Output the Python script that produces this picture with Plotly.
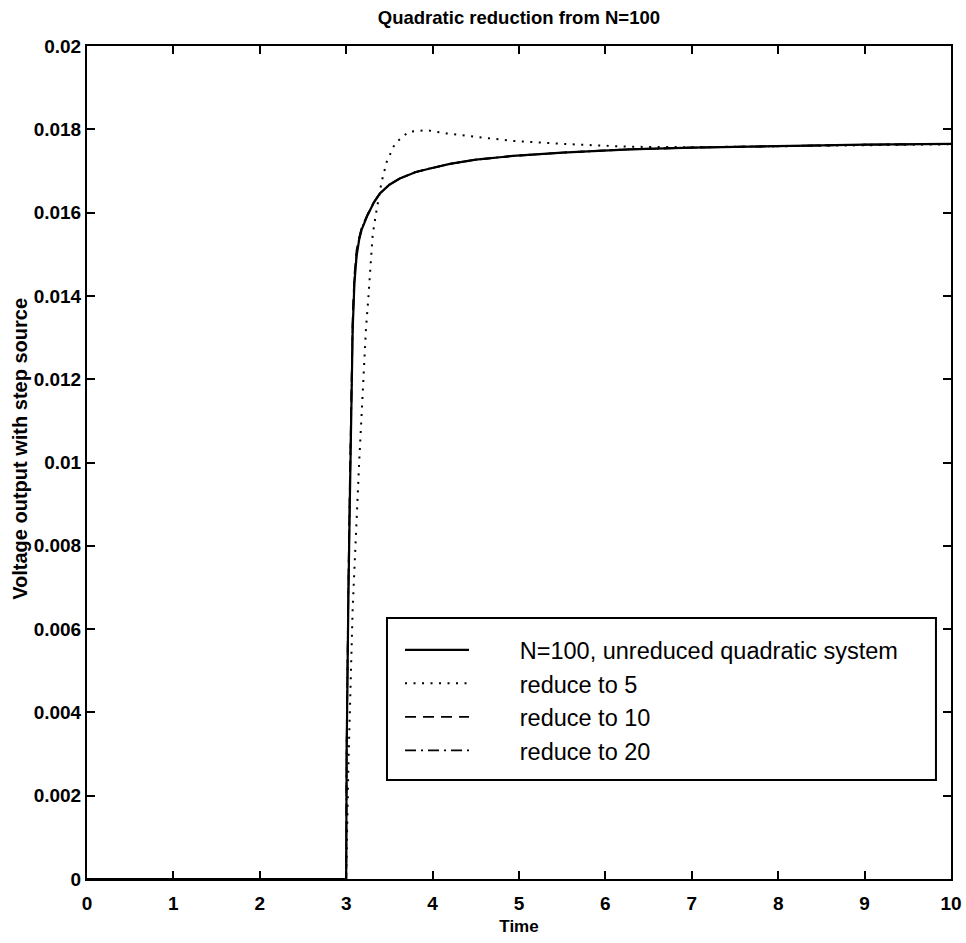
import plotly.graph_objects as go

# Step response of the full N=100 quadratic system and its reduced-order models
t_full = [0.0, 2.99, 3.0, 3.005, 3.012, 3.025, 3.04, 3.055, 3.075, 3.095, 3.12, 3.15,
          3.18, 3.25, 3.32, 3.39, 3.5, 3.62, 3.8, 3.97, 4.2, 4.5, 4.93, 5.5, 6.28,
          7.0, 8.0, 9.0, 10.0]
v_full = [0.0, 0.0, 0.0, 0.0030, 0.0048, 0.0067, 0.0088, 0.0108, 0.0132, 0.0143,
          0.01495, 0.01535, 0.0156, 0.01595, 0.01624, 0.01646, 0.01667, 0.01682,
          0.01697, 0.01706, 0.01717, 0.01727, 0.01736, 0.01744, 0.01752, 0.01756,
          0.0176, 0.01763, 0.01765]

t_red5 = [0.0, 2.99, 3.0, 3.025, 3.075, 3.15, 3.229, 3.256, 3.283, 3.306, 3.345,
          3.41, 3.469, 3.565, 3.72, 3.93, 4.16, 4.55, 4.93, 5.51, 6.28, 7.0, 8.0,
          9.0, 10.0]
v_red5 = [0.0, 0.0, 0.0, 0.0027, 0.0065, 0.0100, 0.01322, 0.01394, 0.0147, 0.01546,
          0.01598, 0.01674, 0.01722, 0.01766, 0.01794, 0.01798, 0.0179, 0.01781,
          0.01772, 0.01765, 0.01758, 0.01757, 0.01759, 0.01762, 0.01764]

t_red10 = [0.0, 2.99, 3.0, 3.005, 3.012, 3.025, 3.04, 3.055, 3.075, 3.095, 3.12,
           3.15, 3.18, 3.25, 3.32, 3.39, 3.5, 3.62, 3.8, 3.97, 4.2, 4.5, 4.93, 5.5,
           6.28, 7.0, 8.0, 9.0, 10.0]
v_red10 = [0.0, 0.0, 0.0, 0.0032, 0.0051, 0.0071, 0.0093, 0.0113, 0.0135, 0.0145,
           0.0151, 0.0154, 0.01565, 0.01597, 0.01625, 0.01646, 0.01667, 0.01682,
           0.01697, 0.01706, 0.01717, 0.01727, 0.01736, 0.01744, 0.01752, 0.01756,
           0.0176, 0.01763, 0.01765]

t_red20 = [0.0, 2.99, 3.0, 3.005, 3.012, 3.025, 3.04, 3.055, 3.075, 3.095, 3.12,
           3.15, 3.18, 3.25, 3.32, 3.39, 3.5, 3.62, 3.8, 3.97, 4.2, 4.5, 4.93, 5.5,
           6.28, 7.0, 8.0, 9.0, 10.0]
v_red20 = [0.0, 0.0, 0.0, 0.0031, 0.0049, 0.0069, 0.0090, 0.0110, 0.0133, 0.0144,
           0.0150, 0.01538, 0.01562, 0.01596, 0.01624, 0.01646, 0.01667, 0.01682,
           0.01697, 0.01706, 0.01717, 0.01727, 0.01736, 0.01744, 0.01752, 0.01756,
           0.0176, 0.01763, 0.01765]

series_names = ["N=100, unreduced quadratic system", "reduce to 5",
                "reduce to 10", "reduce to 20"]

x_ticks = [0, 1, 2, 3, 4, 5, 6, 7, 8, 9, 10]
y_ticks = [0, 0.002, 0.004, 0.006, 0.008, 0.01, 0.012, 0.014, 0.016, 0.018, 0.02]
y_tick_text = ["0", "0.002", "0.004", "0.006", "0.008", "0.01", "0.012", "0.014",
               "0.016", "0.018", "0.02"]

FONT = "Liberation Sans, Arial, Helvetica, sans-serif"
GAP = "\u00a0" * 7  # space between the legend line sample and its label

fig = go.Figure()
fig.add_trace(go.Scatter(x=t_full, y=v_full, mode="lines", name=GAP + series_names[0],
                         line=dict(color="black", width=2.2)))
fig.add_trace(go.Scatter(x=t_red5, y=v_red5, mode="lines", name=GAP + series_names[1],
                         line=dict(color="black", width=2, dash="2px,6.5px")))
fig.add_trace(go.Scatter(x=t_red10, y=v_red10, mode="lines", name=GAP + series_names[2],
                         line=dict(color="black", width=1.8, dash="11px,7px")))
fig.add_trace(go.Scatter(x=t_red20, y=v_red20, mode="lines", name=GAP + series_names[3],
                         line=dict(color="black", width=1.8, dash="11px,5px,2px,5px")))

axis_common = dict(
    showline=True, linecolor="black", linewidth=2, mirror="ticks",
    ticks="inside", ticklen=8, tickwidth=1.6, tickcolor="black",
    showgrid=False, zeroline=False, automargin=False,
    tickfont=dict(family=FONT, size=19, color="black", weight="bold"),
)

fig.update_xaxes(range=[0, 10], tickvals=x_ticks, ticktext=[str(v) for v in x_ticks],
                 ticklabelstandoff=6,
                 title=dict(text="Time", standoff=7,
                            font=dict(family=FONT, size=17, color="black", weight="bold")),
                 **axis_common)
fig.update_yaxes(range=[0, 0.02], tickvals=y_ticks, ticktext=y_tick_text,
                 **axis_common)

# frame around the legend
fig.add_shape(type="rect", xref="paper", yref="paper",
              x0=0.3472, x1=0.9826, y0=0.1188, y1=0.3133,
              line=dict(color="black", width=2), fillcolor="white", layer="above")

# y-axis title
fig.add_annotation(text="Voltage output with step source", textangle=-90,
                   xref="paper", yref="paper", x=-0.077, y=0.517,
                   xanchor="center", yanchor="middle", showarrow=False,
                   font=dict(family=FONT, size=20, color="black", weight="bold"))

fig.update_layout(
    width=966, height=943,
    margin=dict(l=87, r=15, t=46, b=64),
    plot_bgcolor="white", paper_bgcolor="white",
    title=dict(text="Quadratic reduction from N=100", x=0.5372, xanchor="center",
               y=0.981, yanchor="middle",
               font=dict(family=FONT, size=18.5, color="black", weight="bold")),
    showlegend=True,
    legend=dict(x=0.3623, y=0.3013, xanchor="left", yanchor="top",
                bgcolor="rgba(0,0,0,0)", borderwidth=0,
                font=dict(family=FONT, size=23.5, color="black"),
                itemwidth=64, tracegroupgap=0),
)

fig.write_html("out.html")
